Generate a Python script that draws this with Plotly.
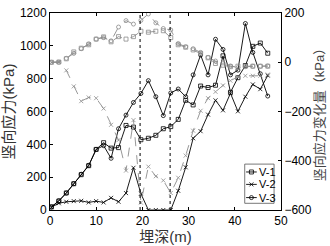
import plotly.graph_objects as go

depth = [0.3 + 1.615 * i for i in range(30)]

v1 = [20, 55, 104, 160, 215, 270, 369, 410, 377, 380, 515, 505, 428, 437, 455, 495, 508, 552, 668, 640, 755, 746, 760, 939, 717, 806, 880, 997, 1017, 955]
v2 = [17, 41, 50, 54, 56, 46, 54, 46, 74, 50, 103, 257, 99, 0, 0, 0, 0, 117, 260, 437, 480, 581, 668, 607, 711, 601, 690, 765, 736, 819]
v3 = [17, 56, 103, 160, 218, 272, 369, 392, 315, 495, 578, 655, 710, 788, 690, 575, 713, 737, 690, 823, 944, 823, 1040, 978, 823, 852, 1136, 960, 830, 694]

d1 = [0, 1, 14, 42, 57, 71, 94, 103, 83, 104, 94, 104, 126, 122, 126, 128, 100, 71, 61, 50, 36, 18, -5, -12, -18, -16, -16, -16, -16, -16]
d2 = [0, 1, -33, -98, -158, -143, -146, -188, -254, -316, -440, -235, -570, -424, -463, -480, -531, -469, -379, -278, -197, -146, -120, -94, -75, -59, -55, -55, -55, -50]
d3 = [0, 0, 16, 36, 55, 75, 94, 100, 87, 143, 169, 155, 170, 196, 160, 137, 131, 76, 63, 55, 40, 20, 5, -3, -15, -22, -18, -16, -16, -15]

names = ["V-1", "V-2", "V-3"]
symbols = ["square-open", "x-thin-open", "circle-open"]
mark_lines = [19.5, 26]

FONT = "Liberation Sans, Arial, Noto Sans CJK SC, sans-serif"
GRAY = "#8c8c8c"

fig = go.Figure()
for name, vals, sym in zip(names, [v1, v2, v3], symbols):
    fig.add_trace(go.Scatter(
        x=depth, y=vals, name=name, mode="lines+markers", showlegend=False,
        line=dict(color="black", width=0.9),
        marker=dict(symbol=sym, size=4, color="black",
                    line=dict(color="black", width=0.8)),
        xaxis="x", yaxis="y"))
for vals, sym in zip([d1, d2, d3], symbols):
    fig.add_trace(go.Scatter(
        x=depth, y=vals, mode="lines+markers", showlegend=False,
        line=dict(color=GRAY, width=0.9, dash="dash"),
        marker=dict(symbol=sym, size=4, color=GRAY,
                    line=dict(color=GRAY, width=0.8)),
        xaxis="x", yaxis="y2"))

for xv in mark_lines:
    fig.add_shape(type="line", x0=xv, x1=xv, y0=0, y1=1, xref="x", yref="y domain",
                  line=dict(color="black", width=1, dash="dot"))

# custom compact legend (in plot-area fractions via helper axes x3/y3)
leg_x0, leg_x1, leg_y0, leg_y1 = 0.843, 0.970, 0.034, 0.233
leg_rows = [0.193, 0.130, 0.063]
fig.add_shape(type="rect", x0=leg_x0, x1=leg_x1, y0=leg_y0, y1=leg_y1,
              xref="x3", yref="y3", line=dict(color="#555555", width=0.8),
              fillcolor="white", layer="below")
for name, sym, ry in zip(names, symbols, leg_rows):
    fig.add_shape(type="line", x0=0.849, x1=0.895, y0=ry, y1=ry, xref="x3", yref="y3",
                  line=dict(color="black", width=0.9), layer="below")
    fig.add_trace(go.Scatter(x=[0.872], y=[ry], mode="markers", showlegend=False,
                             marker=dict(symbol=sym, size=4, color="black",
                                         line=dict(color="black", width=0.8)),
                             xaxis="x3", yaxis="y3", hoverinfo="skip"))
    fig.add_annotation(x=0.898, y=ry, xref="x3", yref="y3", text=name, showarrow=False,
                       xanchor="left", yanchor="middle",
                       font=dict(size=11, color="black", family=FONT))

axis_common = dict(showline=True, linecolor="black", linewidth=1, ticks="inside",
                   ticklen=3, tickcolor="black", showgrid=False, zeroline=False,
                   tickfont=dict(size=12, color="black", family=FONT))

fig.update_layout(
    width=330, height=246, autosize=False,
    margin=dict(l=48, r=45, t=6, b=34),
    paper_bgcolor="white", plot_bgcolor="white",
    font=dict(family=FONT, color="black"),
    xaxis=dict(range=[0, 50], dtick=10, mirror="ticks",
               title=dict(text="埋深(m)", font=dict(size=15, color="#333333"), standoff=1), **axis_common),
    yaxis=dict(range=[0, 1200], dtick=200,
               title=dict(text="竖向应力(kPa)", font=dict(size=15, color="#333333"), standoff=3), **axis_common),
    yaxis2=dict(range=[-600, 200], dtick=200, overlaying="y", side="right",
                title=dict(text="竖向应力变化量（kPa）", font=dict(size=13, color="#444444"), standoff=3),
                **axis_common),
    xaxis3=dict(domain=[0, 1], range=[0, 1], visible=False, overlaying="x", anchor="y3"),
    yaxis3=dict(domain=[0, 1], range=[0, 1], visible=False, overlaying="y", anchor="x3"),
    showlegend=False,
)

fig.write_html("out.html", post_script="document.body.style.margin='0';",
               config={"displayModeBar": False})
